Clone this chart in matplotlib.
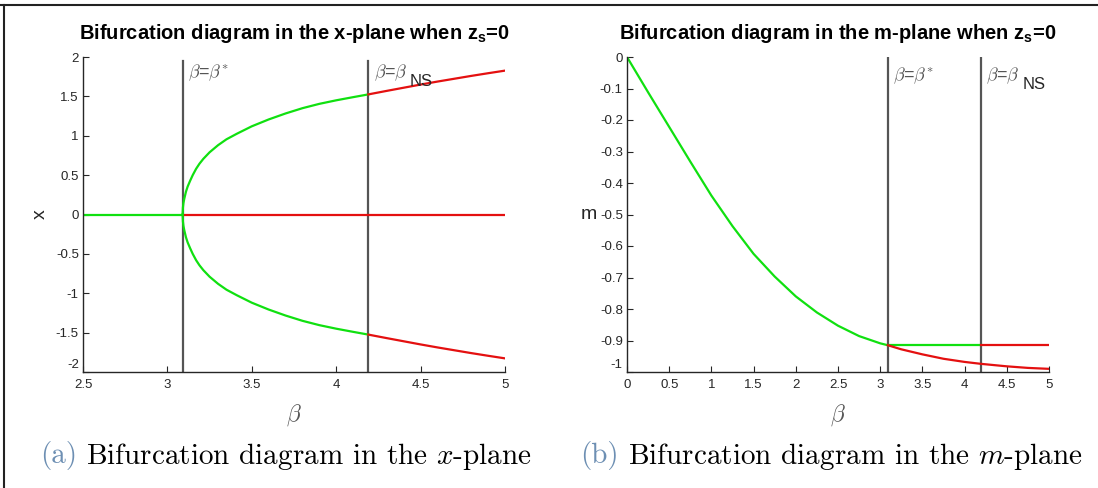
import matplotlib.pyplot as plt
from matplotlib.lines import Line2D
from matplotlib.transforms import blended_transform_factory, ScaledTranslation

plt.rcParams['font.family'] = ['Liberation Sans', 'DejaVu Sans']
plt.rcParams['mathtext.fontset'] = 'custom'
plt.rcParams['mathtext.rm'] = 'Liberation Sans'
plt.rcParams['mathtext.bf'] = 'Liberation Sans:bold'
plt.rcParams['mathtext.it'] = 'Liberation Sans:italic'

GREEN = '#10e010'
RED = '#e41010'
VLINE = '#555555'
AXC = '#262626'

beta_star = 3.09
beta_ns = 4.19

# x-plane: trivial branch and the symmetric pair that opens at beta*
x_triv_stable_b = [2.5, beta_star]
x_triv_stable = [0.0, 0.0]
x_triv_unstable_b = [beta_star, 5.0]
x_triv_unstable = [0.0, 0.0]

x_branch_b = [3.09, 3.092, 3.095, 3.1, 3.11, 3.12, 3.135, 3.15, 3.17, 3.19,
              3.213, 3.25, 3.3, 3.35, 3.411, 3.5, 3.6, 3.7, 3.8, 3.9, 4.0,
              4.1, 4.19]
x_branch = [0.0, 0.09, 0.145, 0.2, 0.29, 0.355, 0.43, 0.5, 0.58, 0.645,
            0.707, 0.79, 0.88, 0.955, 1.025, 1.12, 1.207, 1.283, 1.35, 1.405,
            1.45, 1.49, 1.525]
x_branch_ns_b = [4.19, 4.3, 4.4, 4.5, 4.6, 4.7, 4.8, 4.9, 5.0]
x_branch_ns = [1.525, 1.57, 1.61, 1.65, 1.688, 1.724, 1.76, 1.794, 1.827]

# m-plane
m_main_b = [0.0, 0.25, 0.5, 0.75, 1.0, 1.25, 1.5, 1.75, 2.0, 2.25, 2.5,
            2.75, 3.0, 3.09]
m_main = [0.0, -0.112, -0.222, -0.332, -0.44, -0.537, -0.625, -0.697, -0.76,
          -0.811, -0.853, -0.886, -0.909, -0.915]
m_flat_stable_b = [beta_star, beta_ns]
m_flat_stable = [-0.915, -0.915]
m_flat_unstable_b = [beta_ns, 5.0]
m_flat_unstable = [-0.915, -0.915]
m_low_b = [3.09, 3.25, 3.5, 3.75, 4.0, 4.19, 4.5, 4.75, 5.0]
m_low = [-0.915, -0.928, -0.944, -0.958, -0.968, -0.974, -0.982, -0.987, -0.99]

x_ticks = [2.5, 3, 3.5, 4, 4.5, 5]
x_yticks = [-2, -1.5, -1, -0.5, 0, 0.5, 1, 1.5, 2]
m_xticks = [0, 0.5, 1, 1.5, 2, 2.5, 3, 3.5, 4, 4.5, 5]
m_yticks = [-1, -0.9, -0.8, -0.7, -0.6, -0.5, -0.4, -0.3, -0.2, -0.1, 0]


def fmt(v):
    return ('%g' % v)


fig = plt.figure(figsize=(10.98, 4.88), dpi=100)
ax1 = fig.add_axes([83 / 1098, 1 - 372 / 488, 422 / 1098, 315 / 488])
ax2 = fig.add_axes([627 / 1098, 1 - 372 / 488, 422 / 1098, 315 / 488])

lw = 1.6
ax1.plot(x_triv_stable_b, x_triv_stable, color=GREEN, lw=lw)
ax1.plot(x_triv_unstable_b, x_triv_unstable, color=RED, lw=lw)
ax1.plot(x_branch_b, x_branch, color=GREEN, lw=lw)
ax1.plot(x_branch_b, [-v for v in x_branch], color=GREEN, lw=lw)
ax1.plot(x_branch_ns_b, x_branch_ns, color=RED, lw=lw)
ax1.plot(x_branch_ns_b, [-v for v in x_branch_ns], color=RED, lw=lw)
for b in (beta_star, beta_ns):
    ax1.plot([b, b], [-2, 1.95], color=VLINE, lw=1.6, zorder=1)

ax2.plot(m_main_b, m_main, color=GREEN, lw=lw)
ax2.plot(m_flat_stable_b, m_flat_stable, color=GREEN, lw=lw)
ax2.plot(m_flat_unstable_b, m_flat_unstable, color=RED, lw=lw)
ax2.plot(m_low_b, m_low, color=RED, lw=lw)
for b in (beta_star, beta_ns):
    ax2.plot([b, b], [-1, 0], color=VLINE, lw=1.6, zorder=1)

ax1.set_xlim(2.5, 5)
ax1.set_ylim(-2, 2)
ax1.set_xticks(x_ticks, [fmt(v) for v in x_ticks])
ax1.set_yticks(x_yticks, [fmt(v) for v in x_yticks])
ax2.set_xlim(0, 5)
ax2.set_ylim(-1, 0)
ax2.set_xticks(m_xticks, [fmt(v) for v in m_xticks])
ax2.set_yticks(m_yticks, [fmt(v) for v in m_yticks])

lift = ScaledTranslation(0, 6 / 72, fig.dpi_scale_trans)
for ax in (ax1, ax2):
    for s in ('top', 'right'):
        ax.spines[s].set_visible(False)
    for s in ('left', 'bottom'):
        ax.spines[s].set_color(AXC)
        ax.spines[s].set_linewidth(1.0)
    ax.tick_params(direction='in', length=4, width=0.8, colors=AXC,
                   labelsize=9.5)
    ax.tick_params(axis='x', pad=5)
    ax.tick_params(axis='y', pad=3)
    ax.set_xlabel(r'$\beta$', fontsize=17, color='#555555',
                  math_fontfamily='cm', labelpad=8)
    ax.patch.set_alpha(0)
    # lowest y label sits a little above the x tick labels
    low = ax.get_yticklabels()[0]
    low.set_transform(low.get_transform() + lift)

ax1.set_ylabel('x', fontsize=14, color=AXC, labelpad=5)
ax2.set_ylabel('m', fontsize=14, color=AXC, rotation=0, labelpad=8,
               va='center')

ax1.set_title(r'Bifurcation diagram in the x-plane when $\mathbf{z_s}$=0',
              fontsize=14.5, fontweight='bold', pad=13)
ax2.set_title(r'Bifurcation diagram in the m-plane when $\mathbf{z_s}$=0',
              fontsize=14.5, fontweight='bold', pad=13)

# labels next to the two critical values
for ax, yf in ((ax1, 0.95), (ax2, 0.94)):
    tr = blended_transform_factory(ax.transData, ax.transAxes)
    ax.annotate(r'$\beta$=$\beta^{*}$', xy=(beta_star, yf), xycoords=tr,
                xytext=(4, 0), textcoords='offset points', va='center',
                fontsize=13, color='#555555', math_fontfamily='cm')
    ax.annotate(r'$\beta$=$\beta$', xy=(beta_ns, yf), xycoords=tr,
                xytext=(4, 0), textcoords='offset points', va='center',
                fontsize=13, color='#555555', math_fontfamily='cm')
    ax.annotate('NS', xy=(beta_ns, yf), xycoords=tr,
                xytext=(30, -6), textcoords='offset points', va='center',
                fontsize=12, color=AXC)

# sub-figure captions
cap_y = 1 - 456 / 488
fig.text(40 / 1098, cap_y, '(a)', fontsize=21, color='#6d8fb3',
         family='cmr10', va='center')
fig.text(86 / 1098, cap_y, r'Bifurcation diagram in the $x$-plane',
         fontsize=21, color='black', family='cmr10', math_fontfamily='cm',
         va='center')
fig.text(580 / 1098, cap_y, '(b)', fontsize=21, color='#6d8fb3',
         family='cmr10', va='center')
fig.text(628 / 1098, cap_y, r'Bifurcation diagram in the $m$-plane',
         fontsize=21, color='black', family='cmr10', math_fontfamily='cm',
         va='center')

# frame edges along the top and left
fig.add_artist(Line2D([0, 1], [1 - 5 / 488, 1 - 5 / 488], color='#222222',
                      lw=1.5, transform=fig.transFigure))
fig.add_artist(Line2D([4 / 1098, 4 / 1098], [0, 1 - 5 / 488],
                      color='#222222', lw=1.5, transform=fig.transFigure))

fig.savefig('out.png', dpi=100)
